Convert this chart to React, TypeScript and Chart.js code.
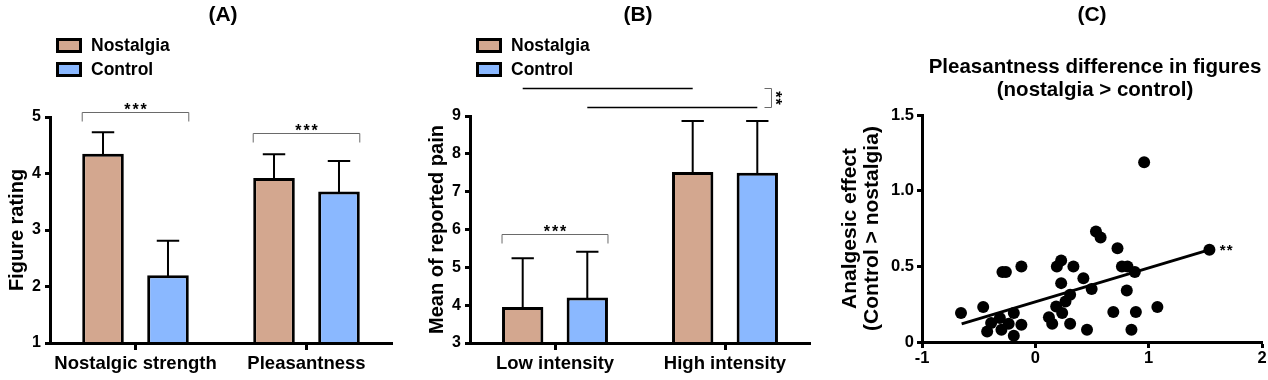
import React, { useEffect, useRef } from "react";
import { Chart, registerables } from "chart.js";

Chart.register(...registerables);

const FONT = "'Liberation Sans', Arial, Helvetica, sans-serif";
Chart.defaults.font.family = FONT;
Chart.defaults.color = "#000";

// ---------- data ----------
const seriesNames = ["Nostalgia", "Control"];

// Panel A
const catsA = ["Nostalgic strength", "Pleasantness"];
const nostA = [4.35, 3.92];
const nostErrA = [0.38, 0.42];
const ctrlA = [2.2, 3.68];
const ctrlErrA = [0.61, 0.54];
const ticksA = [1, 2, 3, 4, 5];
const bracketA = [
  { cat: 0, y: 5.08, label: "***" },
  { cat: 1, y: 4.71, label: "***" },
];

// Panel B
const catsB = ["Low intensity", "High intensity"];
const nostB = [3.95, 7.52];
const nostErrB = [1.29, 1.35];
const ctrlB = [4.2, 7.5];
const ctrlErrB = [1.21, 1.37];
const ticksB = [3, 4, 5, 6, 7, 8, 9];
const bracketB = [{ cat: 0, y: 5.89, label: "***" }];
const spanLinesB = [
  { ds: 0, y: 9.75 },
  { ds: 1, y: 9.25 },
];
const spanSigB = "**";

// Panel C
const scatterX = [
  -0.656, -0.46, -0.425, -0.39, -0.313, -0.299, -0.29, -0.26, -0.235, -0.19,
  -0.19, -0.123, -0.123, 0.12, 0.149, 0.19, 0.228, 0.184, 0.228, 0.237,
  0.266, 0.307, 0.307, 0.336, 0.424, 0.456, 0.497, 0.535, 0.576, 0.725,
  0.688, 0.764, 0.813, 0.807, 0.878, 0.848, 0.887, 0.96, 1.077, 1.536,
];
const scatterY = [
  0.191, 0.231, 0.07, 0.125, 0.158, 0.081, 0.462, 0.462, 0.121, 0.042,
  0.191, 0.499, 0.114, 0.163, 0.121, 0.499, 0.539, 0.235, 0.389, 0.191,
  0.268, 0.312, 0.121, 0.499, 0.422, 0.081, 0.35, 0.73, 0.69, 0.62,
  0.198, 0.499, 0.499, 0.34, 0.462, 0.081, 0.198, 1.188, 0.231, 0.609,
];
const fitX = [-0.65, 1.54];
const fitY = [0.12, 0.61];
const fitSig = "**";
const ticksCx = [-1, 0, 1, 2];
const ticksCy = [0, 0.5, 1.0, 1.5];
const titleC = ["Pleasantness difference in figures", "(nostalgia > control)"];
const yTitleC = ["Analgesic effect", "(Control > nostalgia)"];

// ---------- styles ----------
const NOST_COLOR = "#D3A78F";
const CTRL_COLOR = "#8AB8FF";
const BRACKET_COLOR = "#6a6a6a";
const H = 380;

function bold(size: number) {
  return `bold ${size}px ${FONT}`;
}

function drawPanelLetter(chart: any, text: string, dx = 0) {
  const { ctx, chartArea } = chart;
  ctx.save();
  ctx.font = bold(21);
  ctx.fillStyle = "#000";
  ctx.textAlign = "center";
  ctx.textBaseline = "middle";
  ctx.fillText(text, (chartArea.left + chartArea.right) / 2 + dx, 15);
  ctx.restore();
}

function drawStars(ctx: any, text: string, cx: number, baseline: number) {
  ctx.save();
  ctx.font = bold(16);
  ctx.fillStyle = "#000";
  ctx.textAlign = "center";
  ctx.textBaseline = "alphabetic";
  const sp = 2;
  try {
    ctx.letterSpacing = sp + "px";
  } catch (e) {}
  ctx.fillText(text, cx + sp / 2, baseline);
  ctx.restore();
}

function makeBarPlugin(opts: any) {
  return {
    id: "barAnnot",
    afterDatasetsDraw(chart: any) {
      const { ctx } = chart;
      const y = chart.scales.y;
      ctx.save();
      ctx.strokeStyle = "#000";
      ctx.lineWidth = 2;
      opts.errs.forEach((errArr: number[], i: number) => {
        const meta = chart.getDatasetMeta(i);
        const vals = chart.data.datasets[i].data;
        meta.data.forEach((bar: any, j: number) => {
          const yTop = y.getPixelForValue(vals[j] + errArr[j]);
          const half = bar.width * 0.27;
          ctx.beginPath();
          ctx.moveTo(bar.x, bar.y + 1);
          ctx.lineTo(bar.x, yTop);
          ctx.moveTo(bar.x - half, yTop);
          ctx.lineTo(bar.x + half, yTop);
          ctx.stroke();
        });
      });
      ctx.restore();
    },
    afterDraw(chart: any) {
      const { ctx, chartArea } = chart;
      const y = chart.scales.y;
      drawPanelLetter(chart, opts.letter, opts.letterShift || 0);

      // legend
      chart.data.datasets.forEach((ds: any, i: number) => {
        const bx = chartArea.left + 6;
        const by = 38 + i * 24;
        ctx.save();
        ctx.fillStyle = ds.backgroundColor;
        ctx.fillRect(bx, by, 26, 15);
        ctx.strokeStyle = "#000";
        ctx.lineWidth = 3;
        ctx.strokeRect(bx + 1.5, by + 1.5, 23, 12);
        ctx.font = bold(17.5);
        ctx.fillStyle = "#000";
        ctx.textAlign = "left";
        ctx.textBaseline = "middle";
        ctx.fillText(ds.label, bx + 35, by + 8);
        ctx.restore();
      });

      // brackets
      const m0 = chart.getDatasetMeta(0);
      const m1 = chart.getDatasetMeta(1);
      opts.brackets.forEach((b: any) => {
        const b0 = m0.data[b.cat];
        const b1 = m1.data[b.cat];
        const x0 = b0.x - b0.width / 2;
        const x1 = b1.x + b1.width / 2;
        const yy = Math.round(y.getPixelForValue(b.y)) + 0.5;
        ctx.save();
        ctx.strokeStyle = BRACKET_COLOR;
        ctx.lineWidth = 1;
        ctx.beginPath();
        ctx.moveTo(x0, yy + 9);
        ctx.lineTo(x0, yy);
        ctx.lineTo(x1, yy);
        ctx.lineTo(x1, yy + 9);
        ctx.stroke();
        ctx.restore();
        drawStars(ctx, b.label, (x0 + x1) / 2, yy + 2);
      });

      // span lines (same series, across categories)
      if (opts.spans && opts.spans.length) {
        const ys: number[] = [];
        let xr = 0;
        opts.spans.forEach((s: any) => {
          const meta = chart.getDatasetMeta(s.ds);
          const xa = meta.data[0].x;
          const xb = meta.data[meta.data.length - 1].x;
          const yy = Math.round(y.getPixelForValue(s.y)) + 0.5;
          ys.push(yy);
          xr = Math.max(xr, xb);
          ctx.save();
          ctx.strokeStyle = "#000";
          ctx.lineWidth = 1.5;
          ctx.beginPath();
          ctx.moveTo(xa, yy);
          ctx.lineTo(xb, yy);
          ctx.stroke();
          ctx.restore();
        });
        const bxr = Math.round(xr + 14) + 0.5;
        const yTop = Math.min(...ys);
        const yBot = Math.max(...ys);
        ctx.save();
        ctx.strokeStyle = BRACKET_COLOR;
        ctx.lineWidth = 1;
        ctx.beginPath();
        ctx.moveTo(bxr - 7, yTop);
        ctx.lineTo(bxr, yTop);
        ctx.lineTo(bxr, yBot);
        ctx.lineTo(bxr - 7, yBot);
        ctx.stroke();
        ctx.restore();
        ctx.save();
        ctx.translate(bxr + 7.5, (yTop + yBot) / 2);
        ctx.rotate(Math.PI / 2);
        ctx.font = bold(16);
        ctx.fillStyle = "#000";
        ctx.textAlign = "center";
        ctx.textBaseline = "alphabetic";
        try {
          ctx.letterSpacing = "1px";
        } catch (e) {}
        ctx.fillText(opts.spanSig, 0.5, 9);
        ctx.restore();
      }
    },
  };
}

function barConfig(p: any) {
  return {
    type: "bar",
    data: {
      labels: p.cats,
      datasets: [
        {
          label: seriesNames[0],
          data: p.nost,
          backgroundColor: NOST_COLOR,
          borderColor: "#000",
          borderWidth: 3,
        },
        {
          label: seriesNames[1],
          data: p.ctrl,
          backgroundColor: CTRL_COLOR,
          borderColor: "#000",
          borderWidth: 3,
        },
      ],
    },
    options: {
      responsive: false,
      animation: false,
      devicePixelRatio: 1,
      events: [],
      layout: { padding: { top: p.top, right: p.right, left: 0, bottom: 0 } },
      datasets: { bar: { categoryPercentage: 0.76, barPercentage: 0.64 } },
      plugins: {
        legend: { display: false },
        tooltip: { enabled: false },
        title: { display: false },
      },
      scales: {
        x: {
          grid: {
            offset: false,
            drawOnChartArea: false,
            drawTicks: true,
            tickLength: 7,
            tickWidth: 3,
            tickColor: "#000",
          },
          border: { display: true, color: "#000", width: 3, z: 1 },
          ticks: { font: { size: 18.5, weight: "bold" }, color: "#000", padding: 3 },
          afterFit: (s: any) => {
            s.height = H - p.bottom;
          },
        },
        y: {
          min: p.ticks[0],
          max: p.ticks[p.ticks.length - 1],
          afterBuildTicks: (s: any) => {
            s.ticks = p.ticks.map((v: number) => ({ value: v }));
          },
          ticks: { font: { size: 16, weight: "bold" }, color: "#000", padding: 4 },
          grid: {
            drawOnChartArea: false,
            drawTicks: true,
            tickLength: 5,
            tickWidth: 3,
            tickColor: "#000",
          },
          border: { display: true, color: "#000", width: 3, z: 1 },
          title: {
            display: true,
            text: p.yTitle,
            font: { size: 20, weight: "bold", lineHeight: 1.2 },
            color: "#000",
            padding: { top: 5, bottom: 0 },
          },
          afterFit: (s: any) => {
            s.width = p.left;
          },
        },
      },
    },
    plugins: [makeBarPlugin(p)],
  };
}

const fitPlugin = {
  id: "scatterAnnot",
  afterDraw(chart: any) {
    const { ctx, chartArea } = chart;
    drawPanelLetter(chart, "(C)");
    ctx.save();
    ctx.font = bold(20.5);
    ctx.fillStyle = "#000";
    ctx.textAlign = "center";
    ctx.textBaseline = "middle";
    const cx = (chartArea.left + chartArea.right) / 2 + 3;
    titleC.forEach((t, i) => ctx.fillText(t, cx, 67 + i * 23.5));
    ctx.restore();
    const xs = chart.scales.x;
    const ys = chart.scales.y;
    const ex = xs.getPixelForValue(fitX[fitX.length - 1]);
    const ey = ys.getPixelForValue(fitY[fitY.length - 1]);
    ctx.save();
    ctx.font = bold(15);
    ctx.fillStyle = "#000";
    ctx.textAlign = "left";
    ctx.textBaseline = "alphabetic";
    try {
      ctx.letterSpacing = "1px";
    } catch (e) {}
    ctx.fillText(fitSig, ex + 10, ey + 5);
    ctx.restore();
  },
};

function scatterConfig() {
  return {
    type: "scatter",
    data: {
      datasets: [
        {
          type: "line",
          label: "fit",
          data: fitX.map((x, i) => ({ x, y: fitY[i] })),
          borderColor: "#000",
          borderWidth: 3,
          pointRadius: 0,
          showLine: true,
          fill: false,
          clip: false,
        },
        {
          label: "points",
          data: scatterX.map((x, i) => ({ x, y: scatterY[i] })),
          backgroundColor: "#000",
          borderColor: "#000",
          pointRadius: 6,
          pointBorderWidth: 0,
          clip: false,
        },
      ],
    },
    options: {
      responsive: false,
      animation: false,
      devicePixelRatio: 1,
      events: [],
      layout: { padding: { top: 115, right: 5, left: 0, bottom: 0 } },
      plugins: {
        legend: { display: false },
        tooltip: { enabled: false },
        title: { display: false },
      },
      scales: {
        x: {
          type: "linear",
          min: ticksCx[0],
          max: ticksCx[ticksCx.length - 1],
          afterBuildTicks: (s: any) => {
            s.ticks = ticksCx.map((v) => ({ value: v }));
          },
          ticks: {
            font: { size: 16.5, weight: "bold" },
            color: "#000",
            padding: 1,
            callback: (v: number) => String(v),
          },
          grid: {
            drawOnChartArea: false,
            drawTicks: true,
            tickLength: 6,
            tickWidth: 3,
            tickColor: "#000",
          },
          border: { display: true, color: "#000", width: 3, z: 1 },
          afterFit: (s: any) => {
            s.height = H - 342;
          },
        },
        y: {
          type: "linear",
          min: ticksCy[0],
          max: ticksCy[ticksCy.length - 1],
          afterBuildTicks: (s: any) => {
            s.ticks = ticksCy.map((v) => ({ value: v }));
          },
          ticks: {
            font: { size: 16.5, weight: "bold" },
            color: "#000",
            padding: 3,
            callback: (v: number) => (v === 0 ? "0" : v.toFixed(1)),
          },
          grid: {
            drawOnChartArea: false,
            drawTicks: true,
            tickLength: 5,
            tickWidth: 3,
            tickColor: "#000",
          },
          border: { display: true, color: "#000", width: 3, z: 1 },
          title: {
            display: true,
            text: yTitleC,
            font: { size: 21, weight: "bold", lineHeight: 1.05 },
            color: "#000",
            padding: { top: -1, bottom: 0 },
          },
          afterFit: (s: any) => {
            s.width = 82;
          },
        },
      },
    },
    plugins: [fitPlugin],
  };
}

function ChartCanvas({ left, width, make }: { left: number; width: number; make: () => any }) {
  const ref = useRef<HTMLCanvasElement | null>(null);
  useEffect(() => {
    if (!ref.current) return;
    const chart = new Chart(ref.current, make());
    return () => chart.destroy();
  }, []);
  return (
    <canvas
      ref={ref}
      width={width}
      height={H}
      style={{ position: "absolute", left, top: 0, width, height: H, display: "block" }}
    />
  );
}

export default function App() {
  return (
    <div
      style={{
        position: "absolute",
        left: 0,
        top: 0,
        width: 1268,
        height: H,
        background: "#fff",
        overflow: "hidden",
      }}
    >
      <ChartCanvas
        left={0}
        width={420}
        make={() =>
          barConfig({
            letter: "(A)",
            cats: catsA,
            nost: nostA,
            ctrl: ctrlA,
            errs: [nostErrA, ctrlErrA],
            ticks: ticksA,
            brackets: bracketA,
            spans: [],
            yTitle: "Figure rating",
            top: 117,
            bottom: 343,
            left: 50,
            right: 28,
            letterShift: 2,
          })
        }
      />
      <ChartCanvas
        left={420}
        width={420}
        make={() =>
          barConfig({
            letter: "(B)",
            cats: catsB,
            nost: nostB,
            ctrl: ctrlB,
            errs: [nostErrB, ctrlErrB],
            ticks: ticksB,
            brackets: bracketB,
            spans: spanLinesB,
            spanSig: spanSigB,
            yTitle: "Mean of reported pain",
            top: 116,
            bottom: 343,
            left: 50,
            right: 30,
            letterShift: -2,
          })
        }
      />
      <ChartCanvas left={840} width={428} make={scatterConfig} />
    </div>
  );
}
